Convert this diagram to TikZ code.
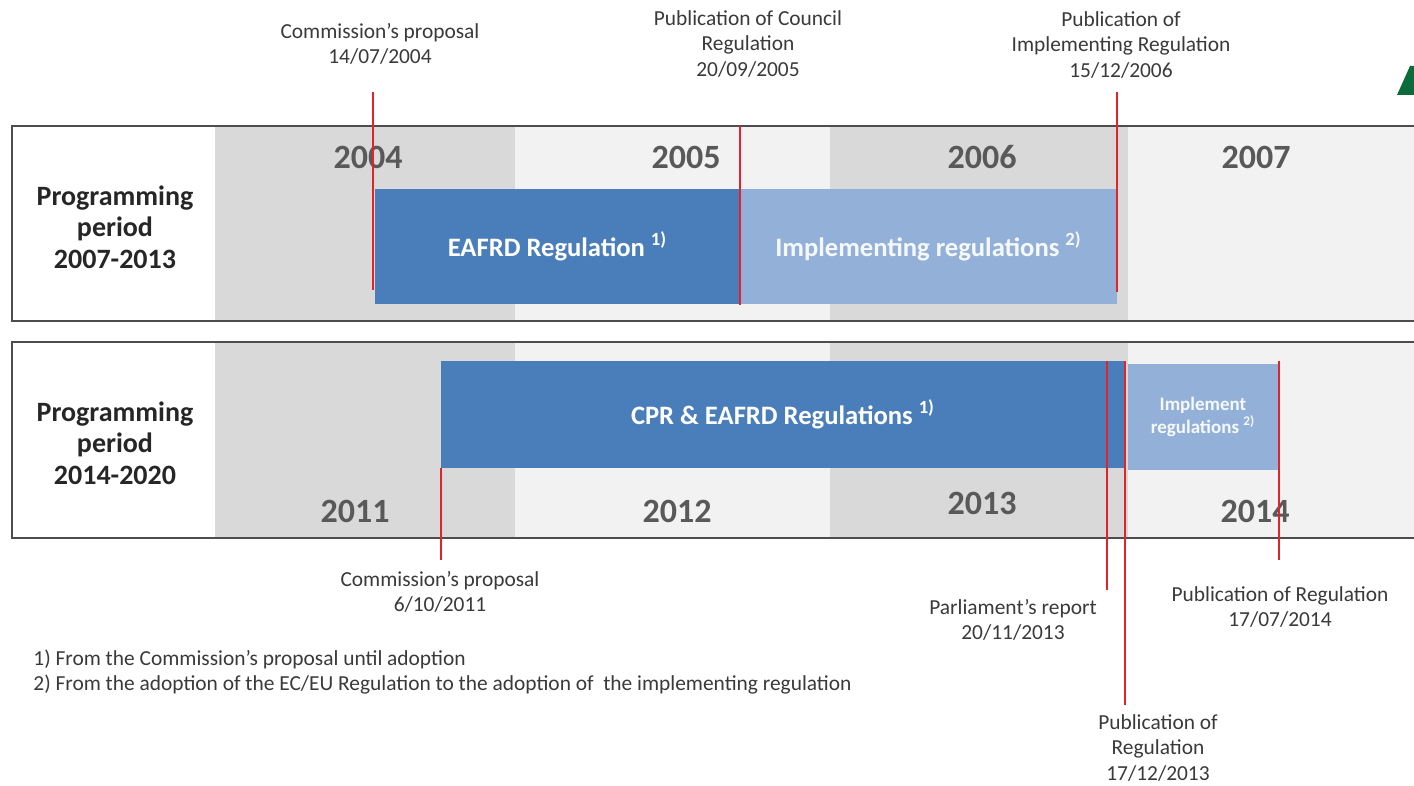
\documentclass[tikz,border=0pt]{standalone}
\usepackage{fontspec}
\setmainfont{Carlito}
\definecolor{colgray}{HTML}{D9D9D9}
\definecolor{collight}{HTML}{F2F2F2}
\definecolor{darkbarc}{HTML}{4A7EBB}
\definecolor{lightbarc}{HTML}{93B1D8}
\definecolor{redc}{HTML}{E3232C}
\definecolor{framec}{HTML}{4D4D4D}
\definecolor{yearc}{HTML}{595959}
\definecolor{labelc}{HTML}{3A3A3A}
\definecolor{greenc}{HTML}{0B6B3A}
\tikzset{
  frame/.style={draw=framec, line width=1pt},
  redline/.style={draw=redc, line width=1.3pt},
  darkbar/.style={fill=darkbarc, inner sep=0pt, text=white, font=\fontsize{13.3}{15}\selectfont\bfseries},
  lightbar/.style={fill=lightbarc, inner sep=0pt, text=white!92!lightbarc, font=\fontsize{13.3}{15}\selectfont\bfseries},
  yearlbl/.style={text=yearc, font=\fontsize{17}{20}\selectfont\bfseries, inner sep=0pt},
  periodlbl/.style={text=black!85, font=\fontsize{14}{15.8}\selectfont\bfseries, align=center, inner sep=0pt},
  eventlbl/.style={text=labelc, font=\fontsize{10.7}{12.6}\selectfont, align=center, inner sep=0pt},
}
\begin{document}
\begin{tikzpicture}[x=0.5pt,y=-0.5pt]
\useasboundingbox (0,0) rectangle (1414,786);
\clip (0,0) rectangle (1414,786);
\fill[white] (0,0) rectangle (1414,786);
% year columns, top panel
\fill[colgray] (215,127) rectangle (515,320);
\fill[collight] (515,127) rectangle (830,320);
\fill[colgray] (830,127) rectangle (1128,320);
\fill[collight] (1128,127) rectangle (1414,320);
% year columns, bottom panel
\fill[colgray] (215,343) rectangle (515,537);
\fill[collight] (515,343) rectangle (830,537);
\fill[colgray] (830,343) rectangle (1128,537);
\fill[collight] (1128,343) rectangle (1414,537);
% frames
\draw[frame] (12,126) rectangle (1440,321);
\draw[frame] (12,342) rectangle (1440,538);
% green mark
\fill[greenc] (1397,95) -- (1414,95) -- (1414,66) -- (1410,66) -- cycle;
% period labels
\node[periodlbl] (p1) at (115,227) {Programming\\period\\2007-2013};
\node[periodlbl] (p2) at (115,443) {Programming\\period\\2014-2020};
% years
\node[yearlbl] (y2004) at (368,157) {2004};
\node[yearlbl] (y2005) at (686,157) {2005};
\node[yearlbl] (y2006) at (982,157) {2006};
\node[yearlbl] (y2007) at (1256,157) {2007};
\node[yearlbl] (y2011) at (355,511) {2011};
\node[yearlbl] (y2012) at (677,511) {2012};
\node[yearlbl] (y2013) at (982,503) {2013};
\node[yearlbl] (y2014) at (1255,511) {2014};
% bars
\node[darkbar, minimum width=182.5pt, minimum height=57.5pt] (eafrd) at (557.5,246.5) {EAFRD Regulation \textsuperscript{1)}};
\node[lightbar, minimum width=188.5pt, minimum height=57.5pt] (impl) at (928.5,246.5) {Implementing regulations \textsuperscript{2)}};
\node[darkbar, minimum width=342pt, minimum height=53.5pt] (cpr) at (783,414.5) {CPR \& EAFRD Regulations \textsuperscript{1)}};
\node[lightbar, minimum width=75pt, minimum height=53pt, align=center, font=\fontsize{9.5}{11.5}\selectfont\bfseries] (impl2) at (1203,417) {Implement\\regulations \textsuperscript{2)}};
% marker coordinates
\coordinate (m1t) at (373,92);  \coordinate (m1b) at (373,290);
\coordinate (m2t) at (740,126); \coordinate (m2b) at (740,305);
\coordinate (m3t) at (1117,92); \coordinate (m3b) at (1117,292);
\coordinate (m4t) at (441,468); \coordinate (m4b) at (441,560);
\coordinate (m5t) at (1107,361); \coordinate (m5b) at (1107,590);
\coordinate (m6t) at (1125,361); \coordinate (m6b) at (1125,705);
\coordinate (m7t) at (1279,361); \coordinate (m7b) at (1279,560);
\draw[redline] (m1t) -- (m1b);
\draw[redline] (m2t) -- (m2b);
\draw[redline] (m3t) -- (m3b);
\draw[redline] (m4t) -- (m4b);
\draw[redline] (m5t) -- (m5b);
\draw[redline] (m6t) -- (m6b);
\draw[redline] (m7t) -- (m7b);
% event labels
\node[eventlbl] (e1) at (380,44) {Commission's proposal\\14/07/2004};
\node[eventlbl] (e2) at (748,44) {Publication of Council\\Regulation\\20/09/2005};
\node[eventlbl] (e3) at (1121,45) {Publication of\\Implementing Regulation\\15/12/2006};
\node[eventlbl] (e4) at (440,592) {Commission's proposal\\6/10/2011};
\node[eventlbl] (e5) at (1013,620) {Parliament's report\\20/11/2013};
\node[eventlbl] (e6) at (1280,607) {Publication of Regulation\\17/07/2014};
\node[eventlbl] (e7) at (1158,748) {Publication of\\Regulation\\17/12/2013};
% footnotes
\node[eventlbl, align=left, anchor=west] (fn) at (33,672) {1) From the Commission's proposal until adoption\\2) From the adoption of the EC/EU Regulation to the adoption of\ \ the implementing regulation};
\end{tikzpicture}
\end{document}
